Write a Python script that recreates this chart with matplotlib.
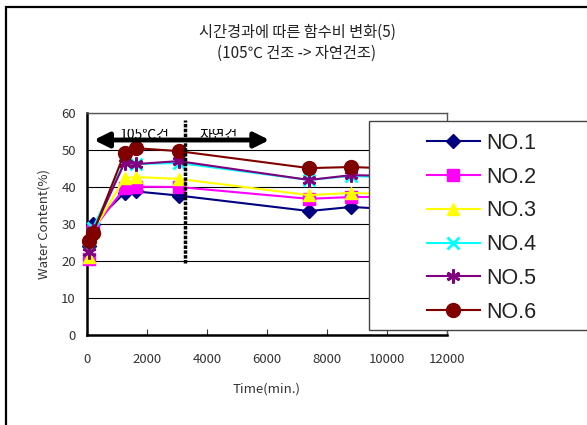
import matplotlib

matplotlib.use("Agg")
import matplotlib.pyplot as plt
from matplotlib.patches import Rectangle

plt.rcParams["font.family"] = ["Noto Sans CJK KR", "DejaVu Sans"]

# elapsed time (min.)
time_min = [50, 200, 1250, 1630, 3050, 7400, 8800, 10200]

no1 = [24.0, 30.0, 38.4, 38.8, 37.7, 33.5, 34.6, 34.0]
no2 = [20.5, 28.5, 39.7, 40.1, 40.0, 36.8, 37.3, 37.3]
no3 = [21.0, 28.0, 42.4, 42.7, 42.2, 37.8, 38.4, 38.0]
no4 = [23.0, 29.0, 46.8, 46.2, 46.5, 41.9, 43.0, 42.5]
no5 = [22.5, 28.0, 46.5, 46.2, 47.0, 41.9, 43.2, 43.0]
no6 = [25.5, 27.5, 49.2, 50.5, 49.7, 45.1, 45.4, 45.0]

series = [no1, no2, no3, no4, no5, no6]
labels = ["NO.1", "NO.2", "NO.3", "NO.4", "NO.5", "NO.6"]
colors = ["#000080", "#FF00FF", "#FFFF00", "#00FFFF", "#800080", "#800000"]
markers = ["D", "s", "^", "x", (6, 2, 0), "o"]
msizes = [7, 8, 9, 8, 10, 10]

fig = plt.figure(figsize=(5.87, 4.25), dpi=100)

# outer chart frame
fig.patches.append(Rectangle((6 / 587, -0.1), 1.2, (425 - 7) / 425 + 0.1,
                             transform=fig.transFigure, fill=False,
                             edgecolor="black", lw=1.6))

ax = fig.add_axes([87 / 587, 90 / 425, 360 / 587, 222 / 425])

for vals, lab, col, mk, ms in zip(series, labels, colors, markers, msizes):
    line_marks = mk == "x" or isinstance(mk, tuple)
    ax.plot(time_min, vals, color=col, marker=mk, markersize=ms, lw=1.5,
            markeredgewidth=2 if line_marks else 1,
            markeredgecolor=col, label=lab, clip_on=False, zorder=3)

ax.set_xlim(0, 12000)
ax.set_ylim(0, 60)
ax.set_xticks(range(0, 12001, 2000))
ax.set_yticks(range(0, 61, 10))
ax.yaxis.grid(True, color="black", lw=0.8)
ax.set_axisbelow(True)
ax.tick_params(axis="x", direction="in", length=4, pad=13, labelsize=9.5,
               colors="#333333")
ax.tick_params(axis="y", length=0, pad=8, labelsize=9.5, colors="#333333")
for s in ("left", "bottom"):
    ax.spines[s].set_linewidth(1.8)
for s in ("top", "right"):
    ax.spines[s].set_color("#555555")
    ax.spines[s].set_linewidth(1)

ax.set_xlabel("Time(min.)", fontsize=9.5, color="#333333", labelpad=12)
ax.set_ylabel("Water Content(%)", fontsize=9.5, color="#333333", labelpad=8)

# drying phase divider and arrow
ax.plot([3270, 3270], [19.5, 58], color="black", lw=2.5,
        linestyle=(0, (1, 0.4)), zorder=5)
ax.annotate("", xy=(230, 52.7), xytext=(6080, 52.7),
            arrowprops=dict(arrowstyle="<|-|>", lw=3.5, color="black",
                            mutation_scale=22, shrinkA=0, shrinkB=0),
            zorder=6)
# labels above the arrow are cut off at the top, as in the source chart
clip = Rectangle((0, 50), 12000, 5.7, transform=ax.transData)
for xpos, txt in [(1100, "105℃건"), (3750, "자연건")]:
    t = ax.text(xpos, 53.0, txt, fontsize=10, color="black", va="baseline",
                zorder=4, clip_on=True)
    t.set_clip_path(clip)

fig.text(297 / 587, 1 - 32 / 425, "시간경과에 따른 함수비 변화(5)",
         ha="center", va="center", fontsize=11, color="#222222")
fig.text(297 / 587, 1 - 53 / 425, "(105℃ 건조 -> 자연건조)",
         ha="center", va="center", fontsize=11, color="#222222")

# legend box
fig.patches.append(Rectangle((369 / 587, 95 / 425), 0.5, 209 / 425,
                             transform=fig.transFigure, facecolor="white",
                             edgecolor="#444444", lw=1, zorder=10))
leg = fig.legend(loc="upper left", bbox_to_anchor=(427 / 587, 1 - 133 / 425),
                 frameon=False, handlelength=2.45,
                 handletextpad=0.3, labelspacing=0.59, borderpad=0,
                 borderaxespad=0, prop={"family": "Liberation Sans",
                                        "size": 15.5})
leg.set_zorder(11)
for txt in leg.get_texts():
    txt.set_color("#222222")

fig.savefig("out.png", dpi=100)
